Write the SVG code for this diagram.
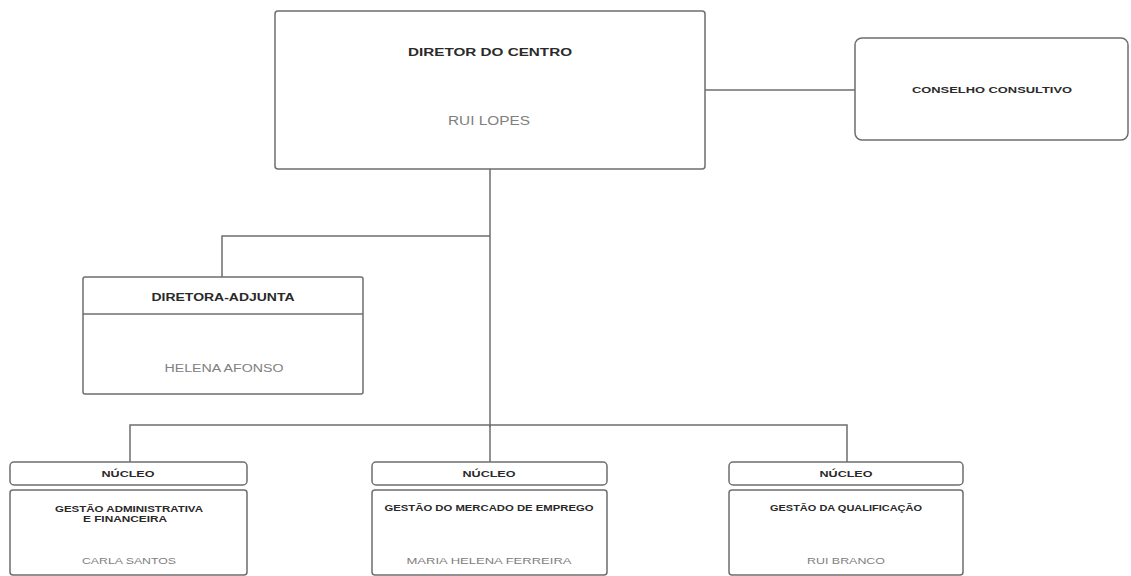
<svg xmlns="http://www.w3.org/2000/svg" width="1131" height="576" viewBox="0 0 1131 576">
<style>
.box{fill:#fff;stroke:#6e6e6e;stroke-width:1.5}
.ln{fill:none;stroke:#6e6e6e;stroke-width:1.5}
.t{font-family:"Liberation Sans",Arial,sans-serif;font-weight:bold;fill:#2a2a2a;text-anchor:middle}
.n{font-family:"Liberation Sans",Arial,sans-serif;fill:#808080;text-anchor:middle}
</style>
<rect width="1131" height="576" fill="#fff"/>
<g id="connectors">
<path class="ln" d="M490 169 V427"/>
<path class="ln" d="M705 90 H855"/>
<path class="ln" d="M490 236 H222 V277"/>
<path class="ln" d="M130 462 V425 H847 V462"/>
<path class="ln" d="M490 425 V462"/>
</g>
<g id="diretor">
<rect class="box" x="275" y="11" width="430" height="158" rx="3"/>
<text class="t" x="490" y="56" font-size="11" textLength="164" lengthAdjust="spacingAndGlyphs">DIRETOR DO CENTRO</text>
<text class="n" x="489" y="125" font-size="12" textLength="82" lengthAdjust="spacingAndGlyphs">RUI LOPES</text>
</g>
<g id="conselho">
<rect class="box" x="855" y="38" width="273" height="102" rx="7"/>
<text class="t" x="992" y="93" font-size="9" textLength="160" lengthAdjust="spacingAndGlyphs">CONSELHO CONSULTIVO</text>
</g>
<g id="diretora-adjunta">
<rect class="box" x="83" y="277" width="280" height="117" rx="2"/>
<path class="ln" d="M83 314 H363"/>
<text class="t" x="223" y="301" font-size="10" textLength="143" lengthAdjust="spacingAndGlyphs">DIRETORA-ADJUNTA</text>
<text class="n" x="224" y="372" font-size="10" textLength="119" lengthAdjust="spacingAndGlyphs">HELENA AFONSO</text>
</g>
<g id="nucleo-gaf">
<rect class="box" x="10" y="462" width="237" height="23" rx="4"/>
<text class="t" x="128" y="477" font-size="9" textLength="53" lengthAdjust="spacingAndGlyphs">NÚCLEO</text>
<rect class="box" x="10" y="490" width="237" height="85" rx="3"/>
<text class="t" x="129" y="512" font-size="8.5" textLength="148" lengthAdjust="spacingAndGlyphs">GESTÃO ADMINISTRATIVA</text>
<text class="t" x="125" y="522" font-size="8.5" textLength="84" lengthAdjust="spacingAndGlyphs">E FINANCEIRA</text>
<text class="n" x="129" y="564" font-size="9.5" textLength="94" lengthAdjust="spacingAndGlyphs">CARLA SANTOS</text>
</g>
<g id="nucleo-gme">
<rect class="box" x="372" y="462" width="235" height="23" rx="4"/>
<text class="t" x="489" y="477" font-size="9" textLength="53" lengthAdjust="spacingAndGlyphs">NÚCLEO</text>
<rect class="box" x="372" y="490" width="235" height="85" rx="3"/>
<text class="t" x="489" y="511" font-size="8.5" textLength="209" lengthAdjust="spacingAndGlyphs">GESTÃO DO MERCADO DE EMPREGO</text>
<text class="n" x="489" y="564" font-size="9.5" textLength="165" lengthAdjust="spacingAndGlyphs">MARIA HELENA FERREIRA</text>
</g>
<g id="nucleo-gq">
<rect class="box" x="729" y="462" width="234" height="23" rx="4"/>
<text class="t" x="846" y="477" font-size="9" textLength="53" lengthAdjust="spacingAndGlyphs">NÚCLEO</text>
<rect class="box" x="729" y="490" width="234" height="85" rx="3"/>
<text class="t" x="846" y="511" font-size="8.5" textLength="152" lengthAdjust="spacingAndGlyphs">GESTÃO DA QUALIFICAÇÃO</text>
<text class="n" x="846" y="564" font-size="9.5" textLength="78" lengthAdjust="spacingAndGlyphs">RUI BRANCO</text>
</g>
</svg>
